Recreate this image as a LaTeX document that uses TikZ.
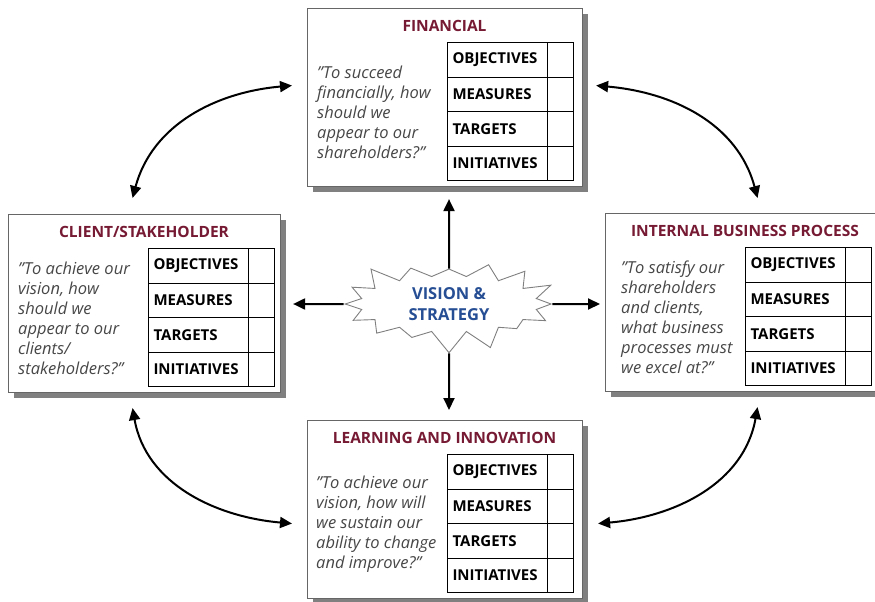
\documentclass[tikz,border=0pt]{standalone}
\usepackage{fontspec}
\setmainfont{Open Sans}
\usetikzlibrary{arrows.meta,shapes.symbols,shadows}

\definecolor{bscred}{RGB}{118,26,52}
\definecolor{bscblue}{RGB}{38,78,148}

\tikzset{
card/.style = {draw=black!60, line width=1.1pt, fill=white, drop shadow={shadow xshift=5pt, shadow yshift=-5pt, fill=black!50, opacity=1}},
cardtitle/.style = {font=\fontsize{15.5}{18}\selectfont\bfseries, text=bscred},
quote/.style = {font=\fontsize{16.5}{20}\selectfont\itshape, text=black!72, align=left, inner sep=0pt},
cell/.style = {draw, line width=1pt, minimum height=34.5pt, inner xsep=5pt, inner ysep=0pt, font=\fontsize{15}{18}\selectfont\bfseries},
oneway/.style = {-{Triangle[width=11pt,length=12pt]}, line width=2pt},
twoway/.style = {{Triangle[width=11pt,length=12pt]}-{Triangle[width=11pt,length=12pt]}, line width=2pt},
pics/bscard/.style n args = {4}{
	code = {
	\node[card, anchor=north west, minimum width=#1pt, minimum height=178pt] (-box) at (0,0) {};
	\node[cardtitle] (-title) at (#1/2,-18) {#2};
	\node[quote, anchor=west] (-quote) at (#4,-104) {#3};
	\foreach \r [count=\i from 0] in {OBJECTIVES,MEASURES,TARGETS,INITIATIVES}
	{
		\node[cell, anchor=north west, text width=90pt, align=left] (-\r) at (140,-34-34.5*\i) {\r};
		\node[cell, anchor=north west, minimum width=26pt] (-\r-x) at (240,-34-34.5*\i) {};
	}
	}
	}
}

\begin{document}
\begin{tikzpicture}[x=1pt,y=1pt]
\useasboundingbox (0,0) rectangle (875,-602);

% the four perspectives
\pic (fin) at (307,-8) {bscard={275}{FINANCIAL}{"To succeed\\financially, how\\should we\\appear to our\\shareholders?"}{10}};
\pic (cli) at (8,-214) {bscard={272}{CLIENT/STAKEHOLDER}{"To achieve our\\vision, how\\should we\\appear to our\\clients/\\stakeholders?"}{10}};
\pic (ibp) at (605,-213) {bscard={280}{INTERNAL BUSINESS PROCESS}{"To satisfy our\\shareholders\\and clients,\\what business\\processes must\\we excel at?"}{16}};
\pic (lrn) at (307,-420) {bscard={275}{LEARNING AND INNOVATION}{"To achieve our\\vision, how will\\we sustain our\\ability to change\\and improve?"}{9}};

% vision in the middle
\node[starburst, starburst points=16, starburst point height=22pt, random starburst=3, draw=black!50, line width=0.9pt, fill=white, minimum width=222pt, minimum height=100pt, inner sep=0pt, align=center, font=\fontsize{16.5}{21}\selectfont\bfseries, text=bscblue] (vision) at (449,-304) {VISION \&\\STRATEGY};

\draw[oneway, shorten >=12pt] (vision) -- (vision |- fin-box.south);
\draw[oneway, shorten >=10pt] (vision) -- (vision |- lrn-box.north);
\draw[oneway, shorten >=12pt] (vision) -- (vision -| cli-box.east);
\draw[oneway, shorten >=5pt] (vision) -- (vision -| ibp-box.west);

% round the corners
\draw[twoway] ([shift={(-15,12)}]fin-box.west) to[out=185, in=75] ([shift={(-12,16)}]cli-box.north);
\draw[twoway] ([shift={(13,12)}]fin-box.east) to[out=-5, in=105] ([shift={(12,15)}]ibp-box.north);
\draw[twoway] ([shift={(-12,-15)}]cli-box.south) to[out=-80, in=175] ([shift={(-15,-14)}]lrn-box.west);
\draw[twoway] ([shift={(12,-15)}]ibp-box.south) to[out=-100, in=5] ([shift={(15,-14)}]lrn-box.east);
\end{tikzpicture}
\end{document}
